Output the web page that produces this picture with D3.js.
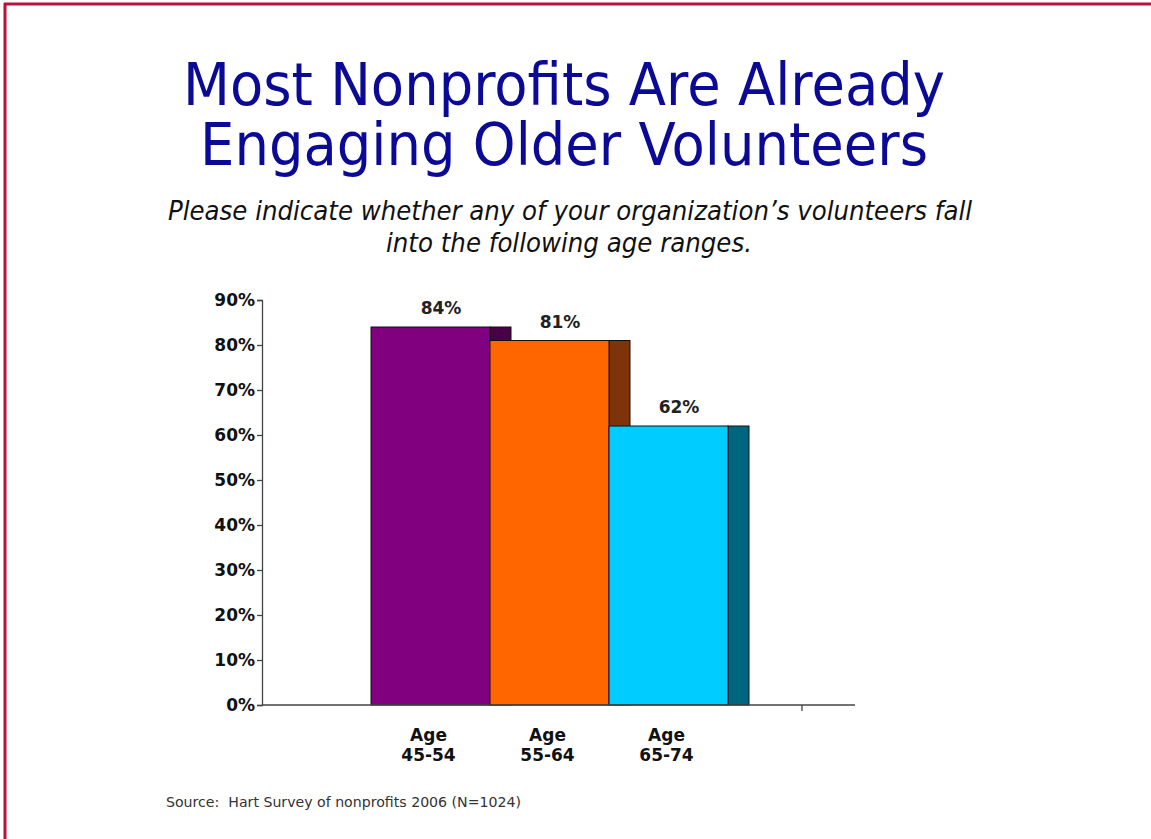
<!DOCTYPE html>
<html>
<head>
<meta charset="utf-8">
<script src="https://cdn.jsdelivr.net/npm/d3@7"></script>
<style>
  html, body { margin: 0; padding: 0; background: #fff; }
  svg { display: block; }
</style>
</head>
<body>
<svg id="chart" width="1151" height="839"></svg>
<script>
// Survey shares by volunteer age range
const categories = ["Age 45-54", "Age 55-64", "Age 65-74"];
const shares = [84, 81, 62];
const frontColors = ["#800080", "#ff6600", "#00ccff"];
const sideColors = ["#4a0048", "#7f330a", "#006680"];
const yTicks = [0, 10, 20, 30, 40, 50, 60, 70, 80, 90];

const svg = d3.select("#chart");

// Slide frame (top and left rules)
svg.append("line").attr("x1", 4).attr("x2", 1151).attr("y1", 4).attr("y2", 4)
  .attr("stroke", "#b8133f").attr("stroke-width", 3);
svg.append("line").attr("x1", 5).attr("x2", 5).attr("y1", 3).attr("y2", 839)
  .attr("stroke", "#b8133f").attr("stroke-width", 3);

// Title
const title = svg.append("g").attr("fill", "#0a0a96")
  .attr("font-family", "'DejaVu Sans', Verdana, sans-serif").attr("font-size", 58)
  .attr("text-anchor", "middle");
title.append("text").attr("x", 564).attr("y", 105)
  .attr("textLength", 762).attr("lengthAdjust", "spacingAndGlyphs")
  .text("Most Nonprofits Are Already");
title.append("text").attr("x", 564).attr("y", 165)
  .attr("textLength", 728).attr("lengthAdjust", "spacingAndGlyphs")
  .text("Engaging Older Volunteers");

// Subtitle
const sub = svg.append("g").attr("fill", "#111")
  .attr("font-family", "'DejaVu Sans', sans-serif").attr("font-style", "italic")
  .attr("font-size", 27).attr("text-anchor", "middle");
sub.append("text").attr("x", 570).attr("y", 220)
  .attr("textLength", 804).attr("lengthAdjust", "spacingAndGlyphs")
  .text("Please indicate whether any of your organization\u2019s volunteers fall");
sub.append("text").attr("x", 569).attr("y", 252)
  .attr("textLength", 366).attr("lengthAdjust", "spacingAndGlyphs")
  .text("into the following age ranges.");

// Scales
const y = d3.scaleLinear().domain([0, 90]).range([705, 300]);
const x = d3.scaleBand().domain(categories).range([371, 728]).padding(0);
const depth = 21;
const axisLeft = 262, axisRight = 855;

const font = "'DejaVu Sans', Verdana, sans-serif";

// Y axis
const yAxis = svg.append("g").attr("transform", `translate(${axisLeft},0)`)
  .call(d3.axisLeft(y).tickValues(yTicks).tickFormat(d => d + "%").tickSize(5).tickPadding(2));
yAxis.select(".domain").attr("stroke", "#444").attr("stroke-width", 1.3);
yAxis.selectAll(".tick line").attr("stroke", "#444").attr("stroke-width", 1.3);
yAxis.selectAll(".tick text").attr("font-family", font).attr("font-weight", "bold")
  .attr("font-size", 17).attr("fill", "#111");

// Bars: side face first, then front face, so each next bar hides the previous side
const bars = svg.append("g");
categories.forEach((c, i) => {
  const x0 = x(c), w = x.bandwidth(), top = y(shares[i]);
  bars.append("rect").attr("x", x0 + w).attr("y", top)
    .attr("width", depth).attr("height", y(0) - top)
    .attr("fill", sideColors[i]).attr("stroke", "#111").attr("stroke-width", 1);
  bars.append("rect").attr("x", x0).attr("y", top)
    .attr("width", w).attr("height", y(0) - top)
    .attr("fill", frontColors[i]).attr("stroke", "#111").attr("stroke-width", 1);
  bars.append("text").attr("x", x0 + (w + depth) / 2).attr("y", top - 13)
    .attr("text-anchor", "middle").attr("font-family", font).attr("font-weight", "bold")
    .attr("font-size", 17).attr("fill", "#222").text(shares[i] + "%");
});

// X axis line with trailing tick
svg.append("line").attr("x1", axisLeft).attr("x2", axisRight).attr("y1", y(0)).attr("y2", y(0))
  .attr("stroke", "#444").attr("stroke-width", 1.3);
svg.append("line").attr("x1", 802).attr("x2", 802).attr("y1", y(0)).attr("y2", y(0) + 6)
  .attr("stroke", "#444").attr("stroke-width", 1.3);

// Category labels (two lines)
const catG = svg.append("g").attr("font-family", font).attr("font-weight", "bold")
  .attr("font-size", 17).attr("fill", "#111").attr("text-anchor", "middle");
categories.forEach(c => {
  const parts = c.split(" ");
  const cx = x(c) + x.bandwidth() / 2 - 2;
  const t = catG.append("text").attr("x", cx).attr("y", 741);
  t.append("tspan").attr("x", cx).attr("dy", 0).text(parts[0]);
  t.append("tspan").attr("x", cx).attr("dy", 20).text(parts[1]);
});

// Source note
svg.append("text").attr("x", 166).attr("y", 807)
  .attr("font-family", font).attr("font-size", 13.5).attr("fill", "#333")
  .attr("xml:space", "preserve")
  .attr("textLength", 355).attr("lengthAdjust", "spacingAndGlyphs")
  .text("Source:  Hart Survey of nonprofits 2006 (N=1024)");
</script>
</body>
</html>
